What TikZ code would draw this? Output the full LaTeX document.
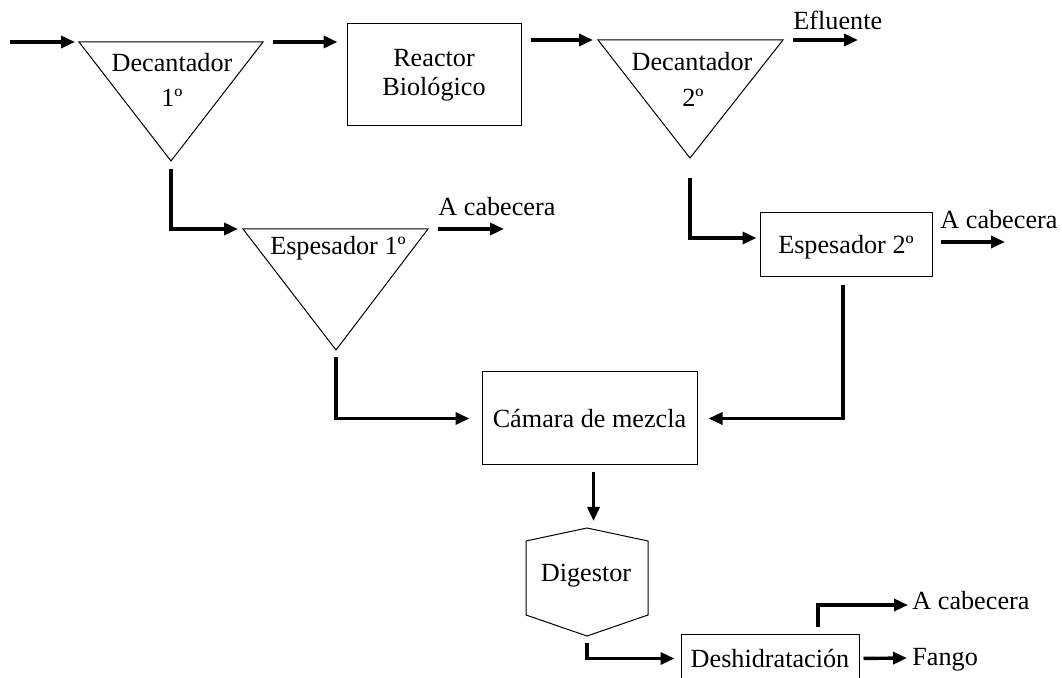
\documentclass[tikz,border=0pt]{standalone}
\usepackage{fontspec}
\setmainfont{Liberation Serif}
\usetikzlibrary{arrows.meta}

\tikzset{
  texto/.style={inner sep=0pt, font=\fontsize{13.1}{14.5}\selectfont},
  caja/.style={texto, draw, line width=0.5pt, text height=11pt, text depth=2pt},
  tanque/.style={line width=0.5pt, line join=miter},
  flecha/.style={line width=1.7pt, -{Triangle[length=7pt,width=6pt]}},
}

\begin{document}
\begin{tikzpicture}[x=0.5pt,y=-0.5pt]
    \useasboundingbox (0,0) rectangle (1062,678);

    % linea de agua
    \draw[tanque] (79,42) coordinate (d1a) -- (263,42) coordinate (d1b) -- (171,161) coordinate (d1c) -- cycle;
    \node[texto, anchor=base] (dec1) at (172,72) {Decantador};
    \node[texto, anchor=base] (dec1n) at (172,107) {1º};

    \node[texto, draw, line width=0.5pt, align=center, minimum width=87pt, minimum height=51pt] (reactor) at (434,75) {Reactor\\Biológico};

    \draw[tanque] (598,40) coordinate (d2a) -- (783,40) coordinate (d2b) -- (690,158) coordinate (d2c) -- cycle;
    \node[texto, anchor=base] (dec2) at (692,71) {Decantador};
    \node[texto, anchor=base] (dec2n) at (693,107) {2º};

    \coordinate (entrada) at (10,42);
    \coordinate (efluente) at (858,40);
    \node[texto, anchor=base west] (efl) at (793,30) {Efluente};

    \draw[flecha, shorten >=2pt] (entrada) -- (d1a);
    \draw[flecha, shorten <=5pt, shorten >=4.5pt] (d1b) -- (reactor.west |- d1b);
    \draw[flecha, shorten <=4.5pt, shorten >=2.5pt] (reactor.east |- d2a) -- (d2a);
    \draw[flecha, shorten <=5pt] (d2b) -- (efluente);

    % linea de fangos
    \draw[tanque] (243,229) coordinate (e1a) -- (428,229) coordinate (e1b) -- (336,350) coordinate (e1c) -- cycle;
    \node[texto, anchor=base] (esp1) at (338,255) {Espesador 1º};
    \coordinate (cab1) at (504,229);
    \node[texto, anchor=base west] (cab1t) at (438,216) {A cabecera};

    \node[caja, minimum width=86pt, minimum height=32pt] (esp2) at (846,245) {Espesador 2º};
    \coordinate (cab2) at (1005,242);
    \node[texto, anchor=base west] (cab2t) at (940,229) {A cabecera};

    \node[caja, minimum width=107.5pt, minimum height=46.5pt] (camara) at (589.5,418.5) {Cámara de mezcla};

    \draw[tanque] (526,541) coordinate (dg1) -- (587,528) coordinate (dgtop) -- (648,541) -- (648,615)
        -- (587,636) coordinate (dgbot) -- (526,615) -- cycle;
    \node[texto, anchor=base] (digestor) at (586,582) {Digestor};

    \node[caja, minimum width=89pt, minimum height=23.5pt] (deshid) at (770,658.5) {Deshidratación};
    \coordinate (cab3) at (908,605);
    \node[texto, anchor=base west] (cab3t) at (912,610) {A cabecera};
    \coordinate (fango) at (907,658);
    \node[texto, anchor=base west] (fangot) at (912,666) {Fango};

    \draw[flecha, shorten <=4pt, shorten >=2.5pt] (d1c) |- (e1a);
    \draw[flecha, shorten <=5pt] (e1b) -- (cab1);
    \draw[flecha, shorten <=10pt, shorten >=1.5pt] (d2c) |- ([yshift=3.5pt]esp2.west);
    \draw[flecha, shorten <=4pt] (esp2.east |- cab2) -- (cab2);
    \draw[flecha, shorten <=3.5pt, shorten >=6pt] (e1c) |- (camara.west);
    \draw[flecha, shorten <=4pt, shorten >=5.5pt] ([xshift=-1.5pt]esp2.south) |- (camara.east);
    \draw[flecha, shorten <=3.5pt, shorten >=3.5pt] ([xshift=2pt]camara.south) -- ([xshift=2pt]camara.south |- dgtop);
    \draw[flecha, shorten <=3.5pt, shorten >=3pt] (dgbot) |- (deshid.west);
    \draw[flecha, shorten <=3.5pt] ([xshift=24pt]deshid.north) |- (cab3);
    \draw[flecha, shorten <=2pt] (deshid.east) -- (fango);
\end{tikzpicture}
\end{document}
